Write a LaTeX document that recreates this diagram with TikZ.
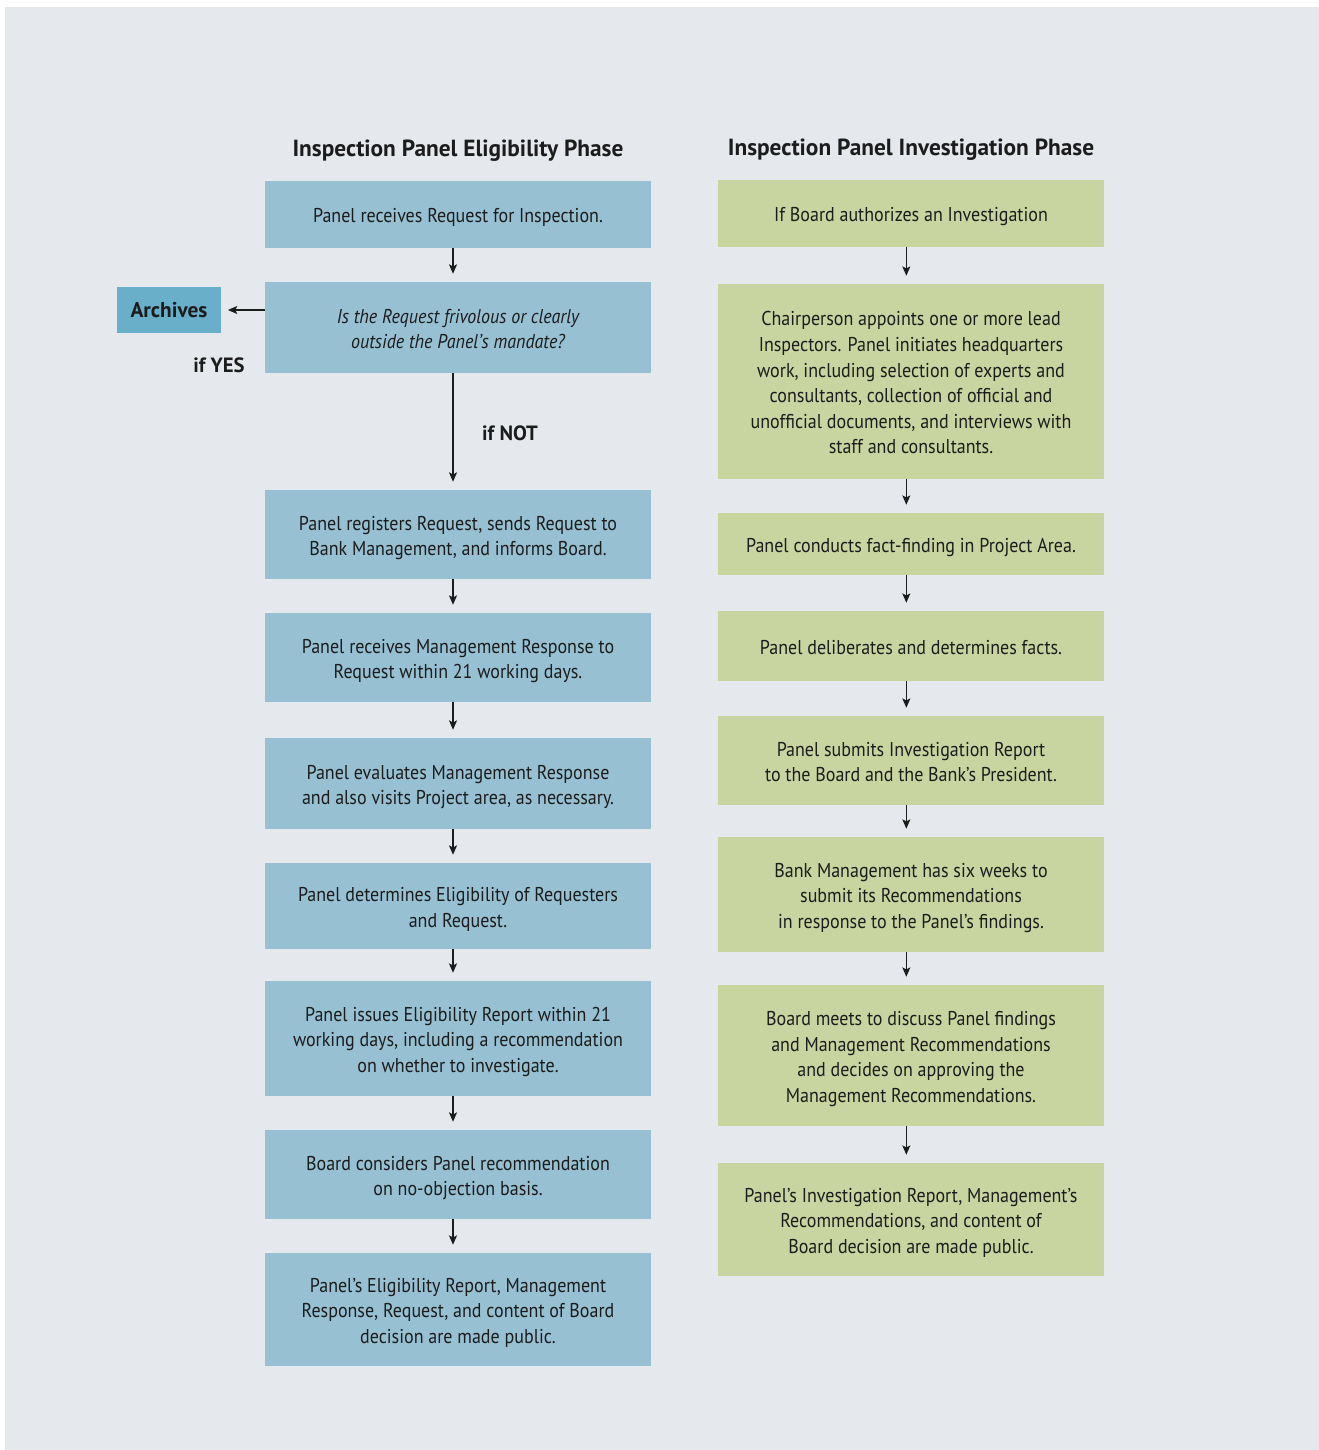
\documentclass[tikz,border=0pt]{standalone}
\usepackage{fontspec}
\setmainfont{PT Sans}[FakeStretch=0.9]
\newfontfamily\headfont{PT Sans}
\usetikzlibrary{arrows.meta}
\definecolor{bgc}{HTML}{E5E9ED}
\definecolor{bluebox}{HTML}{97C1D3}
\definecolor{archbox}{HTML}{6AAFC9}
\definecolor{greenbox}{HTML}{C9D5A0}
\definecolor{txt}{HTML}{1C1C1C}
\tikzset{
  box/.style={rectangle, inner sep=0pt, minimum width=289.5pt, align=center, text=txt,
              font=\fontsize{15}{19.2}\selectfont, text height=13.5pt, text depth=1pt},
  nltwo/.style={text height=32.7pt},
  nlthree/.style={text height=51.9pt},
  nlfour/.style={text height=71.1pt},
  nlsix/.style={text height=109.5pt},
  lbox/.style={box, fill=bluebox},
  rbox/.style={box, fill=greenbox},
  archive/.style={rectangle, inner sep=0pt, fill=archbox, minimum width=78pt, minimum height=34.5pt,
              text=txt, font=\headfont\fontsize{16}{19}\selectfont\bfseries},
  title/.style={text=txt, font=\headfont\fontsize{17.5}{21}\selectfont\bfseries},
  lbl/.style={text=txt, font=\headfont\fontsize{15.5}{19}\selectfont\bfseries},
  arr/.style={draw=txt, line width=1pt, -{Stealth[length=7pt,width=6pt,inset=1.5pt]}, shorten >=6pt},
}
\begin{document}
\begin{tikzpicture}[x=0.75pt,y=-0.75pt]
\useasboundingbox (0,0) rectangle (1319,1450);
\fill[white] (0,0) rectangle (1319,1450);
\fill[bgc] (5,7) rectangle (1319,1450);

% titles
\node[title] (tl) at (458,151) {Inspection Panel Eligibility Phase};
\node[title] (tr) at (911,150) {Inspection Panel Investigation Phase};

% left column
\node[lbox, minimum height=50.25pt] (l1) at (458,214.5) {Panel receives Request for Inspection.};
\node[lbox, nltwo, minimum height=68.25pt] (l2) at (458,327.5) {\itshape Is the Request frivolous or clearly\\\itshape outside the Panel’s mandate?};
\node[lbox, nltwo, minimum height=66.75pt] (l3) at (458,534.5) {Panel registers Request, sends Request to\\Bank Management, and informs Board.};
\node[lbox, nltwo, minimum height=66.75pt] (l4) at (458,657.5) {Panel receives Management Response to\\Request within 21 working days.};
\node[lbox, nltwo, minimum height=68.25pt] (l5) at (458,783.5) {Panel evaluates Management Response\\and also visits Project area, as necessary.};
\node[lbox, nltwo, minimum height=64.5pt] (l6) at (458,906) {Panel determines Eligibility of Requesters\\and Request.};
\node[lbox, nlthree, minimum height=86.25pt] (l7) at (458,1038.5) {Panel issues Eligibility Report within 21\\working days, including a recommendation\\on whether to investigate.};
\node[lbox, nltwo, minimum height=66.75pt] (l8) at (458,1174.5) {Board considers Panel recommendation\\on no-objection basis.};
\node[lbox, nlthree, minimum height=84.75pt] (l9) at (458,1309.5) {Panel’s Eligibility Report, Management\\Response, Request, and content of Board\\decision are made public.};

\node[archive] (arch) at (169,310) {Archives};
\node[lbl] (yes) at (219,365) {if YES};
\node[lbl] (no) at (510,433) {if NOT};

% right column
\node[rbox, minimum height=50.25pt] (r1) at (911,213.5) {If Board authorizes an Investigation};
\node[rbox, nlsix, minimum height=146.25pt] (r2) at (911,381.5) {Chairperson appoints one or more lead\\Inspectors. Panel initiates headquarters\\work, including selection of experts and\\consultants, collection of official and\\unofficial documents, and interviews with\\staff and consultants.};
\node[rbox, minimum height=46.5pt] (r3) at (911,544) {Panel conducts fact-finding in Project Area.};
\node[rbox, minimum height=52.5pt] (r4) at (911,646) {Panel deliberates and determines facts.};
\node[rbox, nltwo, minimum height=66.75pt] (r5) at (911,760.5) {Panel submits Investigation Report\\to the Board and the Bank’s President.};
\node[rbox, nlthree, minimum height=86.25pt] (r6) at (911,894.5) {Bank Management has six weeks to\\submit its Recommendations\\in response to the Panel’s findings.};
\node[rbox, nlfour, minimum height=105.75pt] (r7) at (911,1055.5) {Board meets to discuss Panel findings\\and Management Recommendations\\and decides on approving the\\Management Recommendations.};
\node[rbox, nlthree, minimum height=84.75pt] (r8) at (911,1219.5) {Panel’s Investigation Report, Management’s\\Recommendations, and content of\\Board decision are made public.};

% connectors left
\foreach \a/\b in {l1/l2,l2/l3,l3/l4,l4/l5,l5/l6,l6/l7,l7/l8,l8/l9}
  \draw[arr] ([xshift=-3.75pt]\a.south) -- ([xshift=-3.75pt]\b.north);
\draw[arr, shorten >=5pt] (l2.west |- arch.east) -- (arch.east);

% connectors right
\foreach \a/\b in {r1/r2,r2/r3,r3/r4,r4/r5,r5/r6,r6/r7,r7/r8}
  \draw[arr] ([xshift=-3.5pt]\a.south) -- ([xshift=-3.5pt]\b.north);
\end{tikzpicture}
\end{document}
